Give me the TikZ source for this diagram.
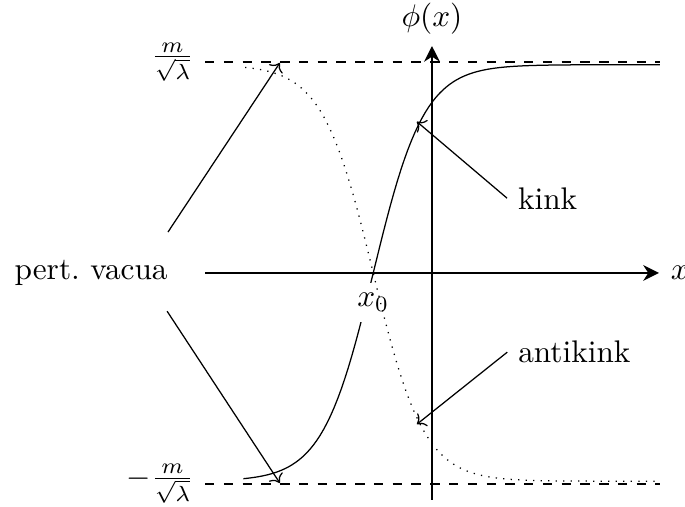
\documentclass[tikz,border=0pt]{standalone}
\usepackage{amsmath,amssymb}
\usetikzlibrary{arrows.meta, positioning, calc}

\begin{document}
\begin{tikzpicture}[
  axis/.style={line width=0.9pt, -{Stealth[length=5pt, width=5pt, inset=1.6pt]}},
  vacline/.style={dashed},
  pointer/.style={->},
]
  \useasboundingbox (-4.854,-2.629) rectangle (2.843,3.067);
  % perturbative vacua
  \draw[vacline] (-2.55,2.37) -- (2.56,2.37);
  \draw[vacline] (-2.55,-2.37) -- (2.56,-2.37);
  \node[left] (mtop) at (-2.55,2.37) {$\frac{m}{\sqrt{\lambda}}$};
  \node[left] (mbot) at (-2.55,-2.37) {$-\frac{m}{\sqrt{\lambda}}$};
  % axes
  \draw[axis] (-2.55,0) -- (2.55,0) node[right] (xlbl) {$x$};
  \draw[axis] (0,-2.55) -- (0,2.55) node[above] (philbl) {$\phi(x)$};
  % kink, then label over it, then antikink
  \draw[domain=-2.12:2.56, samples=120] plot (\x, {2.34*tanh(1.75*(\x+0.66))});
  \node[fill=white] (x0lbl) at (-0.66,-0.33) {$x_0$};
  \draw[dotted, domain=-2.1:2.56, samples=120] plot (\x, {-2.34*tanh(1.75*(\x+0.66))});
  % labels and pointers
  \node (vacua) at (-3.83,0) {pert.\ vacua};
  \node (kinklbl) at (1.30,0.84) {kink};
  \node (antilbl) at (1.60,-0.89) {antikink};
  \coordinate (vtop) at (-1.71,2.36);
  \coordinate (vbot) at (-1.71,-2.36);
  \coordinate (ktip) at (-0.17,1.70);
  \coordinate (atip) at (-0.17,-1.70);
  \draw[pointer] ([shift={(-0.12,0.46)}]vacua.east) -- (vtop);
  \draw[pointer] ([shift={(-0.13,-0.43)}]vacua.east) -- (vbot);
  \draw[pointer] (kinklbl.west) -- (ktip);
  \draw[pointer] (antilbl.west) -- (atip);
\end{tikzpicture}
\end{document}
